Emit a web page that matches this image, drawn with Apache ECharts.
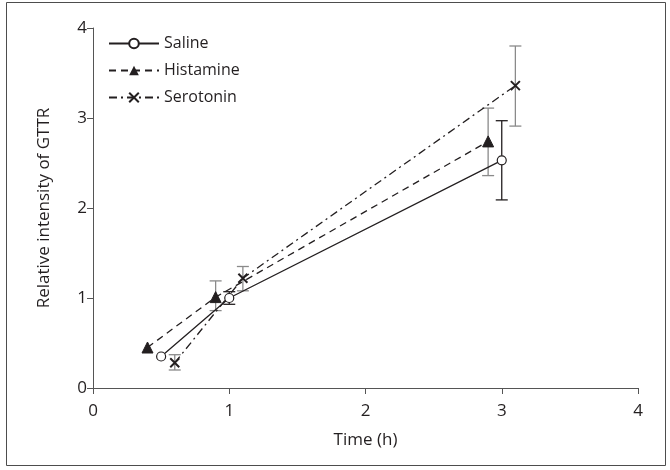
<!DOCTYPE html>
<html><head><meta charset="utf-8">
<script src="https://cdn.jsdelivr.net/npm/echarts@6/dist/echarts.min.js"></script>
<style>html,body{margin:0;padding:0;background:#fff}#c{width:670px;height:470px}</style>
</head><body><div id="c"></div>
<script>
const seriesNames = ['Saline', 'Histamine', 'Serotonin'];
const salineX = [0.5, 1.0, 3.0];
const salineY = [0.35, 1.0, 2.53];
const salineLow = [null, 0.93, 2.09];
const salineHigh = [null, 1.07, 2.97];
const histX = [0.4, 0.9, 2.9];
const histY = [0.45, 1.01, 2.74];
const histLow = [null, 0.86, 2.36];
const histHigh = [null, 1.19, 3.11];
const seroX = [0.6, 1.1, 3.1];
const seroY = [0.28, 1.22, 3.36];
const seroLow = [0.2, 1.08, 2.91];
const seroHigh = [0.37, 1.35, 3.8];
const xTicks = [0, 1, 2, 3, 4];
const yTicks = [0, 1, 2, 3, 4];

const font = '"Open Sans", "Noto Sans", sans-serif';
const txt = '#231f20';
function pts(xs, ys){ return xs.map((x,i)=>[x, ys[i]]); }
function errs(xs, lo, hi){ return xs.map((x,i)=>[x, lo[i], hi[i]]).filter(d=>d[1]!=null); }
function errSeries(data, color){
  return {
    type:'custom', silent:true, z:1,
    data: data,
    renderItem: function(params, api){
      const x = api.value(0);
      const p1 = api.coord([x, api.value(1)]);
      const p2 = api.coord([x, api.value(2)]);
      const w = 6;
      const st = {stroke: color, lineWidth: 1.3};
      return {type:'group', children:[
        {type:'line', shape:{x1:p1[0], y1:p1[1], x2:p2[0], y2:p2[1]}, style:st},
        {type:'line', shape:{x1:p1[0]-w, y1:p1[1], x2:p1[0]+w, y2:p1[1]}, style:st},
        {type:'line', shape:{x1:p2[0]-w, y1:p2[1], x2:p2[0]+w, y2:p2[1]}, style:st}
      ]};
    }
  };
}
const xPath = 'path://M0,0L10,10M10,0L0,10';
const chart = echarts.init(document.getElementById('c'), null, {renderer:'canvas'});
chart.setOption({
  animation:false,
  backgroundColor:'#fff',
  grid:{left:93, right:32, top:28, bottom:82},
  graphic:[{type:'rect', shape:{x:6.5, y:2.5, width:659, height:463}, style:{fill:'none', stroke:'#4d4d4d', lineWidth:1}}],
  legend:{
    left:103, top:30, orient:'vertical', itemGap:10, itemWidth:50, itemHeight:12,
    textStyle:{fontFamily:font, fontSize:16, color:txt, lineHeight:17},
    data: seriesNames
  },
  xAxis:{
    type:'value', min:0, max:4, interval:1,
    name:'Time (h)', nameLocation:'middle', nameGap:44,
    nameTextStyle:{fontFamily:font, fontSize:17, color:txt},
    axisLine:{show:true, lineStyle:{color:'#555', width:1}},
    axisTick:{show:true, length:6, lineStyle:{color:'#555'}},
    axisLabel:{fontFamily:font, fontSize:17, color:txt, margin:15, formatter: v => xTicks.includes(v) ? String(v) : ''},
    splitLine:{show:false}
  },
  yAxis:{
    type:'value', min:0, max:4, interval:1,
    name:'Relative intensity of GTTR', nameLocation:'middle', nameGap:40,
    nameTextStyle:{fontFamily:font, fontSize:17, color:txt},
    axisLine:{show:true, lineStyle:{color:'#555', width:1}},
    axisTick:{show:true, length:6, lineStyle:{color:'#555'}},
    axisLabel:{fontFamily:font, fontSize:17, color:txt, margin:6, formatter: v => yTicks.includes(v) ? String(v) : ''},
    splitLine:{show:false}
  },
  series:[
    errSeries(errs(salineX, salineLow, salineHigh), '#231f20'),
    errSeries(errs(histX, histLow, histHigh), '#8a8a8a'),
    errSeries(errs(seroX, seroLow, seroHigh), '#8a8a8a'),
    {name:'Saline', type:'line', z:3, data:pts(salineX, salineY), symbol:'circle', symbolSize:9, showSymbol:true,
     lineStyle:{color:'#231f20', width:1.3, type:'solid'},
     itemStyle:{color:'#fff', borderColor:'#231f20', borderWidth:1.2}},
    {name:'Histamine', type:'line', z:3, data:pts(histX, histY), symbol:'triangle', symbolSize:11,
     lineStyle:{color:'#231f20', width:1.3, type:[7,5]},
     itemStyle:{color:'#231f20', borderColor:'#231f20'}},
    {name:'Serotonin', type:'line', z:3, data:pts(seroX, seroY), symbol:xPath, symbolSize:9,
     lineStyle:{color:'#231f20', width:1.3, type:[8,4,2,4]},
     itemStyle:{color:'#231f20', borderColor:'#231f20', borderWidth:2}}
  ]
});
</script></body></html>
